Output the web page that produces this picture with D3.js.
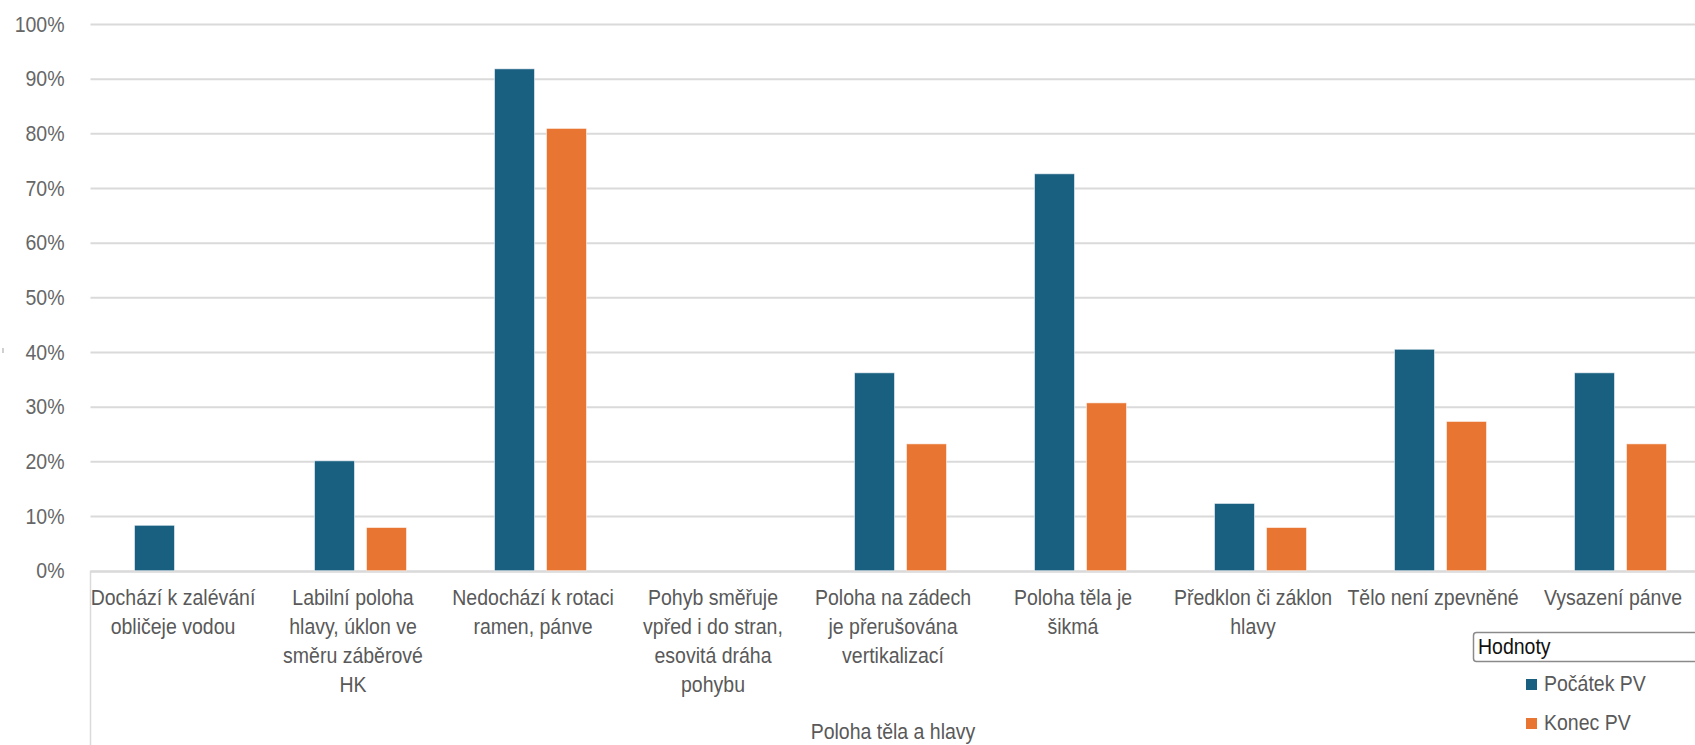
<!DOCTYPE html>
<html>
<head>
<meta charset="utf-8">
<script src="https://cdn.jsdelivr.net/npm/d3@7"></script>
<style>
  html, body { margin: 0; padding: 0; background: #ffffff; }
  svg { display: block; }
  text { font-family: "Liberation Sans", Arial, sans-serif; }
</style>
</head>
<body>
<svg id="chart" width="1695" height="745"></svg>
<script>
// Categories (each label split into its wrapped lines)
const categories = [
  "Dochází k zalévání obličeje vodou",
  "Labilní poloha hlavy, úklon ve směru záběrové HK",
  "Nedochází k rotaci ramen, pánve",
  "Pohyb směřuje vpřed i do stran, esovitá dráha pohybu",
  "Poloha na zádech je přerušována vertikalizací",
  "Poloha těla je šikmá",
  "Předklon či záklon hlavy",
  "Tělo není zpevněné",
  "Vysazení pánve"
];
const categoryLines = [
  ["Dochází k zalévání", "obličeje vodou"],
  ["Labilní poloha", "hlavy, úklon ve", "směru záběrové", "HK"],
  ["Nedochází k rotaci", "ramen, pánve"],
  ["Pohyb směřuje", "vpřed i do stran,", "esovitá dráha", "pohybu"],
  ["Poloha na zádech", "je přerušována", "vertikalizací"],
  ["Poloha těla je", "šikmá"],
  ["Předklon či záklon", "hlavy"],
  ["Tělo není zpevněné"],
  ["Vysazení pánve"]
];
const groupLabel = "Poloha těla a hlavy";

// Series values (share of swimmers, 0–1)
const seriesNames = ["Počátek PV", "Konec PV"];
const pocatekPV = [0.083, 0.201, 0.918, 0, 0.362, 0.726, 0.123, 0.405, 0.362];
const konecPV   = [0, 0.079, 0.809, 0, 0.232, 0.307, 0.079, 0.273, 0.232];
const seriesColors = ["#185f80", "#e87531"];

const yTicks = [0, 0.1, 0.2, 0.3, 0.4, 0.5, 0.6, 0.7, 0.8, 0.9, 1.0];
const legendTitle = "Hodnoty";

const rows = categories.map((c, i) => ({
  category: c, lines: categoryLines[i],
  values: [pocatekPV[i], konecPV[i]]
}));

const svg = d3.select("#chart");
const W = 1695, H = 745;
const plotLeft = 90.5, bandStep = 180;
const y0 = 570.7, y100 = 24;
const FS = "19.5px";
const STRETCH = 1.13;   // the chart font is drawn slightly tall and narrow

// place a text element at (x, y) with the tall-glyph look
function placeText(sel, x, y) {
  sel.attr("transform", `translate(${x},${y}) scale(1,${STRETCH})`)
     .attr("x", 0).attr("y", 0);
}

svg.append("rect").attr("width", W).attr("height", H).attr("fill", "#ffffff");

const x0 = d3.scaleBand()
  .domain(categories)
  .range([plotLeft, plotLeft + bandStep * categories.length])
  .padding(0);

const x1 = d3.scaleBand()
  .domain(seriesNames)
  .range([44, 136])
  .paddingInner(0.2308)
  .paddingOuter(0);

const y = d3.scaleLinear().domain([0, 1]).range([y0, y100]);

// Horizontal gridlines and value labels
const yAxis = d3.axisLeft(y)
  .tickValues(yTicks)
  .tickSize(-(W - plotLeft))
  .tickFormat(d3.format(".0%"));

const gy = svg.append("g")
  .attr("transform", `translate(${plotLeft},0)`)
  .call(yAxis);
gy.select(".domain").remove();
gy.selectAll(".tick line")
  .attr("stroke", "#dadada")
  .attr("stroke-width", 2);
gy.selectAll(".tick text")
  .attr("fill", "#666666")
  .attr("font-size", FS)
  .attr("dy", null)
  .each(function () { placeText(d3.select(this), -26, 7); });

// Category axis frame
svg.append("line")
  .attr("x1", plotLeft).attr("x2", W)
  .attr("y1", y(0) + 1).attr("y2", y(0) + 1)
  .attr("stroke", "#dadada").attr("stroke-width", 2);
svg.append("line")
  .attr("x1", plotLeft).attr("x2", plotLeft)
  .attr("y1", y(0)).attr("y2", H)
  .attr("stroke", "#dadada").attr("stroke-width", 1.5);

// Small remnant of the value axis title at the far left
svg.append("line")
  .attr("x1", 3).attr("x2", 3)
  .attr("y1", 348).attr("y2", 353)
  .attr("stroke", "#b0b0b0").attr("stroke-width", 1.2);

// Bars
const groups = svg.append("g").selectAll("g")
  .data(rows)
  .join("g")
  .attr("transform", d => `translate(${x0(d.category)},0)`);

groups.selectAll("rect")
  .data(d => d.values.map((v, k) => ({ v, k })).filter(e => e.v > 0))
  .join("rect")
  .attr("x", e => x1(seriesNames[e.k]))
  .attr("width", x1.bandwidth())
  .attr("y", e => y(e.v))
  .attr("height", e => y(0) - y(e.v))
  .attr("fill", e => seriesColors[e.k])
  .attr("stroke", "#ffffff")
  .attr("stroke-opacity", 0.55)
  .attr("stroke-width", 1);

// Category labels
const labelOffset = -7.5;
const lineStep = 29;
const labelGroups = svg.append("g").selectAll("g")
  .data(rows)
  .join("g")
  .attr("transform", d => `translate(${x0(d.category) + x0.bandwidth() / 2 + labelOffset},0)`);

labelGroups.selectAll("text")
  .data(d => d.lines)
  .join("text")
  .attr("text-anchor", "middle")
  .attr("font-size", FS)
  .attr("fill", "#595959")
  .text(t => t)
  .each(function (t, i) { placeText(d3.select(this), 0, 605 + i * lineStep); });

// Outer group label
const [r0, r1] = x0.range();
svg.append("text")
  .attr("text-anchor", "middle")
  .attr("font-size", FS)
  .attr("fill", "#595959")
  .text(groupLabel)
  .call(placeText, (r0 + r1) / 2 + labelOffset, 739);

// Legend
const legend = svg.append("g");
legend.append("rect")
  .attr("x", 1473.5).attr("y", 632.5)
  .attr("width", 260).attr("height", 29)
  .attr("rx", 3).attr("ry", 3)
  .attr("fill", "#ffffff")
  .attr("stroke", "#8a8a8a").attr("stroke-width", 1.5);
legend.append("text")
  .attr("font-size", FS)
  .attr("fill", "#111111")
  .text(legendTitle)
  .call(placeText, 1478, 654);

const items = legend.selectAll("g.item")
  .data(seriesNames)
  .join("g")
  .attr("class", "item")
  .attr("transform", (d, i) => `translate(1526,${679 + i * 39})`);
items.append("rect")
  .attr("width", 11).attr("height", 11)
  .attr("fill", (d, i) => seriesColors[i]);
items.append("text")
  .attr("font-size", FS)
  .attr("fill", "#595959")
  .text(d => d)
  .call(placeText, 18, 12);
</script>
</body>
</html>
